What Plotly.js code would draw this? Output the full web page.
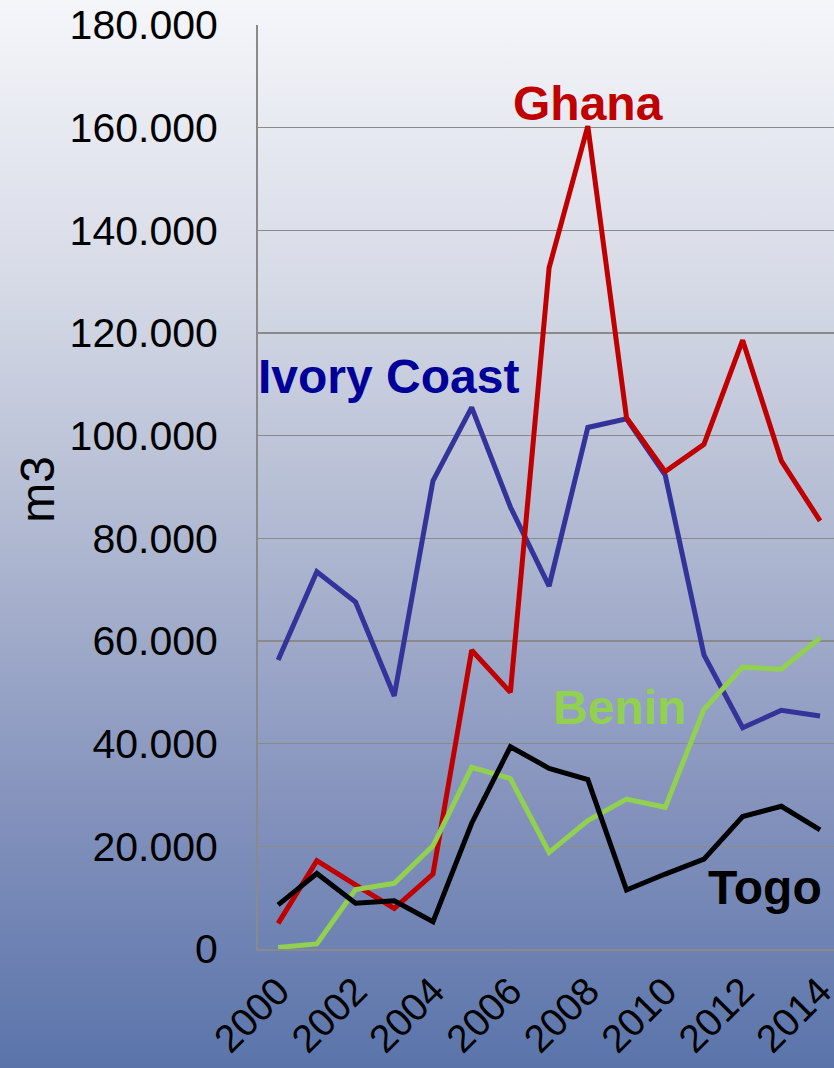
<!DOCTYPE html>
<html>
<head>
<meta charset="utf-8">
<script src="https://cdn.plot.ly/plotly-3.0.1.min.js"></script>
<style>
  html, body { margin: 0; padding: 0; }
  body {
    width: 834px; height: 1068px; overflow: hidden;
    background: linear-gradient(to bottom, #f5f6fa 0%, #d7dbe7 26%, #b0b9d1 50%, #8593bd 75%, #5a74aa 100%);
  }
</style>
</head>
<body>
<div id="chart"></div>
<script>
var years = [2000, 2001, 2002, 2003, 2004, 2005, 2006, 2007, 2008, 2009, 2010, 2011, 2012, 2013, 2014];

var ghana      = [5000, 17200, 12500, 7900, 14600, 58200, 50000, 132700, 160300, 103500, 93000, 98300, 118600, 95100, 83400];
var ivoryCoast = [56300, 73500, 67600, 49300, 91200, 105500, 86100, 70700, 101600, 103300, 92300, 57300, 43100, 46500, 45400];
var benin      = [300, 1000, 11600, 12800, 20100, 35400, 33200, 18800, 25000, 29200, 27600, 46700, 54900, 54500, 60600];
var togo       = [8600, 14700, 8900, 9400, 5300, 24500, 39400, 35200, 33000, 11500, 14600, 17500, 25800, 27800, 23200];

var yTicks = [0, 20000, 40000, 60000, 80000, 100000, 120000, 140000, 160000, 180000];
var yTickText = ['0', '20.000', '40.000', '60.000', '80.000', '100.000', '120.000', '140.000', '160.000', '180.000'];
var xTicks = [2000, 2002, 2004, 2006, 2008, 2010, 2012, 2014];

function line(y, color) {
  return {
    x: years, y: y, mode: 'lines', hoverinfo: 'skip',
    line: { color: color, width: 5 }
  };
}

var data = [
  line(ivoryCoast, '#333399'),
  line(ghana, '#c00000'),
  line(benin, '#92d050'),
  line(togo, '#000000')
];

var labelFont = { family: 'Liberation Sans, Arial, sans-serif', size: 48 };

function label(text, x, y, color) {
  return {
    text: '<b>' + text + '</b>', x: x, y: y, xref: 'x', yref: 'y',
    showarrow: false, xanchor: 'center', yanchor: 'middle',
    font: Object.assign({}, labelFont, { color: color })
  };
}

var layout = {
  width: 834,
  height: 1068,
  margin: { l: 258, r: 0, t: 25, b: 119 },
  paper_bgcolor: 'rgba(0,0,0,0)',
  plot_bgcolor: 'rgba(0,0,0,0)',
  showlegend: false,
  font: { family: 'Liberation Sans, Arial, sans-serif', color: '#000000' },
  xaxis: {
    range: [1999.48, 2014.36],
    tickvals: xTicks,
    ticktext: xTicks.map(String),
    tickangle: -45,
    tickfont: { size: 39 },
    ticks: '',
    ticklabelstandoff: 2,
    ticklabeloverflow: 'allow',
    showgrid: false,
    zeroline: false,
    showline: true,
    linecolor: '#8a8a8a',
    linewidth: 1.5
  },
  yaxis: {
    range: [0, 180000],
    tickvals: yTicks,
    ticktext: yTickText,
    tickfont: { size: 41 },
    ticks: '',
    ticklabelstandoff: 30,
    showgrid: true,
    gridcolor: '#8a8a8a',
    gridwidth: 1.5,
    zeroline: false,
    showline: true,
    linecolor: '#8a8a8a',
    linewidth: 2
  },
  annotations: [
    label('Ghana', 2008, 164800, '#c00000'),
    label('Ivory Coast', 2002.84, 111600, '#000099'),
    label('Benin', 2008.83, 47000, '#92d050'),
    label('Togo', 2012.58, 12000, '#000000'),
    {
      text: 'm3', xref: 'paper', yref: 'paper', x: -0.382, y: 0.498,
      xanchor: 'center', yanchor: 'middle', showarrow: false, textangle: -90,
      font: { family: 'Liberation Sans, Arial, sans-serif', size: 48, color: '#000000' }
    }
  ]
};

Plotly.newPlot('chart', data, layout, { displayModeBar: false, staticPlot: true });
</script>
</body>
</html>
